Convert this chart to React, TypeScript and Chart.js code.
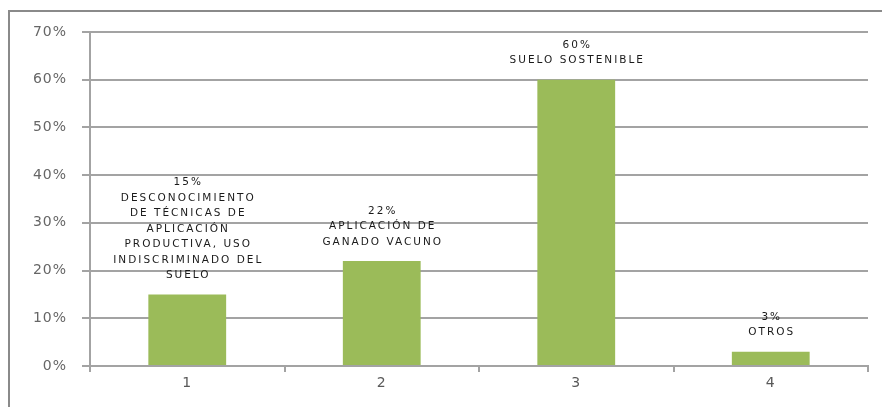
import React, { useEffect, useRef } from "react";
import { Chart, registerables } from "chart.js";

Chart.register(...registerables);

const categories = ["1", "2", "3", "4"];
const values = [15, 22, 60, 3];
const yTicksMax = 70;
const yTickStep = 10;
const barTexts = [
  ["DESCONOCIMIENTO", "DE TÉCNICAS DE", "APLICACIÓN", "PRODUCTIVA, USO", "INDISCRIMINADO DEL", "SUELO"],
  ["APLICACIÓN DE", "GANADO VACUNO"],
  ["SUELO SOSTENIBLE"],
  ["OTROS"],
];

const GRID = "#a3a3a3";

const frame = {
  id: "frame",
  beforeDraw(chart: any) {
    const ctx = chart.ctx;
    ctx.save();
    ctx.fillStyle = "#ffffff";
    ctx.fillRect(0, 0, chart.width, chart.height);
    ctx.strokeStyle = "#8a8a8a";
    ctx.lineWidth = 2;
    ctx.strokeRect(9, 11, chart.width + 10, chart.height + 10);
    ctx.restore();
    (ctx as any).letterSpacing = "1px";
  },
  afterDraw(chart: any) {
    (chart.ctx as any).letterSpacing = "0px";
  },
};

const barLabels = {
  id: "barLabels",
  afterDatasetsDraw(chart: any) {
    const ctx = chart.ctx;
    const meta = chart.getDatasetMeta(0);
    ctx.save();
    (ctx as any).letterSpacing = "2px";
    ctx.font = "10.5px 'DejaVu Sans'";
    ctx.fillStyle = "#1a1a1a";
    ctx.textAlign = "center";
    ctx.textBaseline = "middle";
    meta.data.forEach((bar: any, i: number) => {
      const lines = [values[i] + "%", ...barTexts[i]];
      const lh = 15.5;
      const last = bar.y - 19;
      lines.forEach((t, j) => {
        const y = last - (lines.length - 1 - j) * lh;
        ctx.fillText(t, bar.x + 1, y);
      });
    });
    ctx.restore();
  },
};

export default function App() {
  const ref = useRef<HTMLCanvasElement | null>(null);
  useEffect(() => {
    if (!ref.current) return;
    const chart = new Chart(ref.current, {
      type: "bar",
      data: {
        labels: categories,
        datasets: [
          {
            data: values,
            backgroundColor: "#9bbb59",
            borderWidth: 0,
            barPercentage: 0.4,
            categoryPercentage: 1,
          },
        ],
      },
      options: {
        animation: false,
        responsive: false,
        maintainAspectRatio: false,
        layout: { padding: { left: 0, right: 14, top: 32, bottom: 0 } },
        plugins: { legend: { display: false }, tooltip: { enabled: false } },
        scales: {
          x: {
            afterFit(scale: any) {
              scale.height = 41;
            },
            grid: {
              drawOnChartArea: false,
              drawTicks: true,
              tickLength: 6,
              color: GRID,
              lineWidth: 2,
            },
            border: { color: GRID, width: 2 },
            ticks: {
              color: "#595959",
              font: { family: "'DejaVu Sans'", size: 14 },
              padding: 3,
            },
          },
          y: {
            min: 0,
            max: yTicksMax,
            afterFit(scale: any) {
              scale.width = 90;
            },
            grid: { color: GRID, lineWidth: 2, tickLength: 8 },
            border: { color: GRID, width: 2 },
            ticks: {
              stepSize: yTickStep,
              color: "#666666",
              font: { family: "'DejaVu Sans'", size: 14 },
              padding: 15,
              callback: (v: any) => v + "%",
            },
          },
        },
      },
      plugins: [frame, barLabels],
    });
    return () => chart.destroy();
  }, []);
  return (
    <div style={{ position: "fixed", left: 0, top: 0, width: 882, height: 407 }}>
      <canvas ref={ref} width={882} height={407} style={{ display: "block" }} />
    </div>
  );
}
